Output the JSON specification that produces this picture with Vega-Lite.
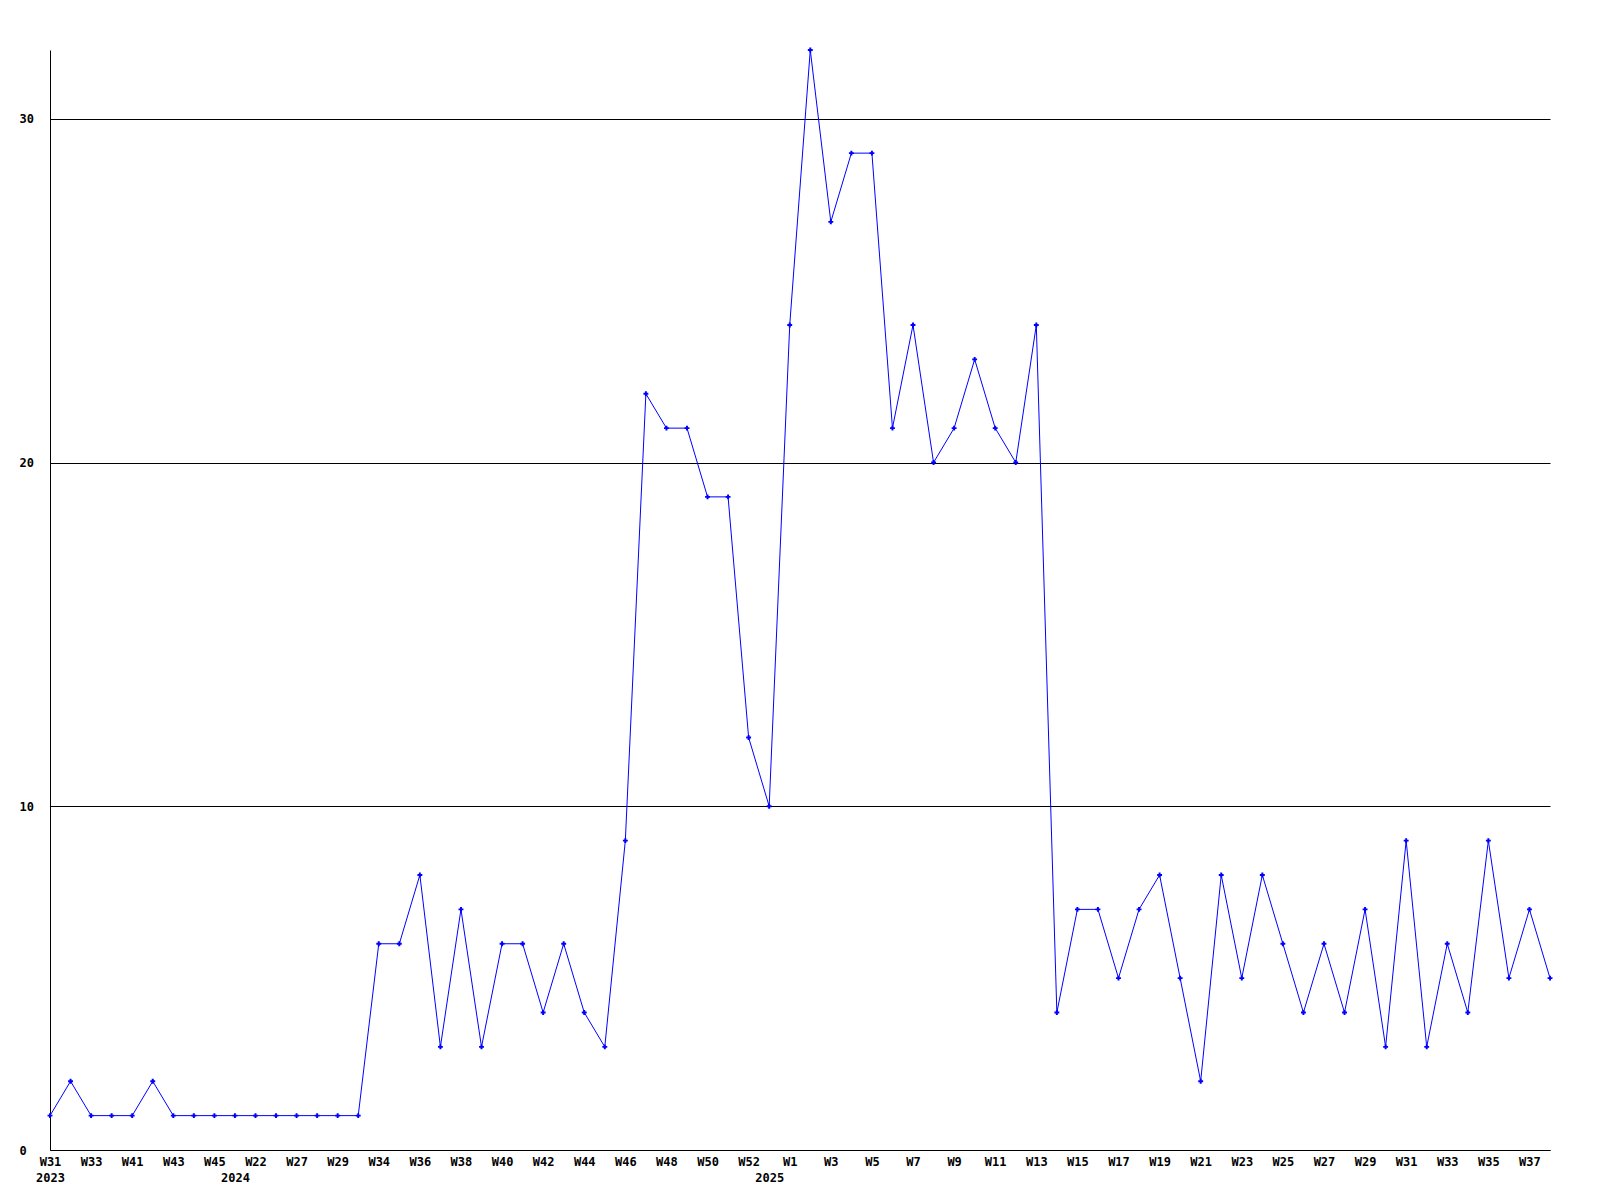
{
  "$schema": "https://vega.github.io/schema/vega-lite/v6.json",
  "width": 1500,
  "height": 1100,
  "autosize": {"type": "none"},
  "padding": {"left": 50, "top": 50, "right": 50, "bottom": 50},
  "background": "white",
  "config": {"view": {"stroke": null}},
  "data": {"values": [
    {"week": "2023-W31", "value": 1},
    {"week": "2023-W32", "value": 2},
    {"week": "2023-W33", "value": 1},
    {"week": "2023-W38", "value": 1},
    {"week": "2023-W41", "value": 1},
    {"week": "2023-W42", "value": 2},
    {"week": "2023-W43", "value": 1},
    {"week": "2023-W44", "value": 1},
    {"week": "2023-W45", "value": 1},
    {"week": "2024-W1", "value": 1},
    {"week": "2024-W22", "value": 1},
    {"week": "2024-W24", "value": 1},
    {"week": "2024-W27", "value": 1},
    {"week": "2024-W28", "value": 1},
    {"week": "2024-W29", "value": 1},
    {"week": "2024-W31", "value": 1},
    {"week": "2024-W34", "value": 6},
    {"week": "2024-W35", "value": 6},
    {"week": "2024-W36", "value": 8},
    {"week": "2024-W37", "value": 3},
    {"week": "2024-W38", "value": 7},
    {"week": "2024-W39", "value": 3},
    {"week": "2024-W40", "value": 6},
    {"week": "2024-W41", "value": 6},
    {"week": "2024-W42", "value": 4},
    {"week": "2024-W43", "value": 6},
    {"week": "2024-W44", "value": 4},
    {"week": "2024-W45", "value": 3},
    {"week": "2024-W46", "value": 9},
    {"week": "2024-W47", "value": 22},
    {"week": "2024-W48", "value": 21},
    {"week": "2024-W49", "value": 21},
    {"week": "2024-W50", "value": 19},
    {"week": "2024-W51", "value": 19},
    {"week": "2024-W52", "value": 12},
    {"week": "2025-W0", "value": 10},
    {"week": "2025-W1", "value": 24},
    {"week": "2025-W2", "value": 32},
    {"week": "2025-W3", "value": 27},
    {"week": "2025-W4", "value": 29},
    {"week": "2025-W5", "value": 29},
    {"week": "2025-W6", "value": 21},
    {"week": "2025-W7", "value": 24},
    {"week": "2025-W8", "value": 20},
    {"week": "2025-W9", "value": 21},
    {"week": "2025-W10", "value": 23},
    {"week": "2025-W11", "value": 21},
    {"week": "2025-W12", "value": 20},
    {"week": "2025-W13", "value": 24},
    {"week": "2025-W14", "value": 4},
    {"week": "2025-W15", "value": 7},
    {"week": "2025-W16", "value": 7},
    {"week": "2025-W17", "value": 5},
    {"week": "2025-W18", "value": 7},
    {"week": "2025-W19", "value": 8},
    {"week": "2025-W20", "value": 5},
    {"week": "2025-W21", "value": 2},
    {"week": "2025-W22", "value": 8},
    {"week": "2025-W23", "value": 5},
    {"week": "2025-W24", "value": 8},
    {"week": "2025-W25", "value": 6},
    {"week": "2025-W26", "value": 4},
    {"week": "2025-W27", "value": 6},
    {"week": "2025-W28", "value": 4},
    {"week": "2025-W29", "value": 7},
    {"week": "2025-W30", "value": 3},
    {"week": "2025-W31", "value": 9},
    {"week": "2025-W32", "value": 3},
    {"week": "2025-W33", "value": 6},
    {"week": "2025-W34", "value": 4},
    {"week": "2025-W35", "value": 9},
    {"week": "2025-W36", "value": 5},
    {"week": "2025-W37", "value": 7},
    {"week": "2025-W38", "value": 5}
  ]},
  "encoding": {
    "x": {
      "field": "week",
      "type": "ordinal",
      "sort": null,
      "scale": {"type": "point", "padding": 0},
      "axis": {
        "title": null,
        "domainColor": "black",
        "domainWidth": 1,
        "ticks": false,
        "grid": false,
        "labelAngle": 0,
        "labelAlign": "center",
        "labelBaseline": "top",
        "labelPadding": 6,
        "labelFlush": false,
        "labelOverlap": false,
        "labelBound": false,
        "labelFont": "DejaVu Sans Mono",
        "labelFontWeight": "bold",
        "labelFontSize": 12,
        "labelColor": "black",
        "labelLineHeight": 16,
        "values": ["2023-W31", "2023-W33", "2023-W41", "2023-W43", "2023-W45", "2024-W1", "2024-W22", "2024-W27", "2024-W29", "2024-W34", "2024-W36", "2024-W38", "2024-W40", "2024-W42", "2024-W44", "2024-W46", "2024-W48", "2024-W50", "2024-W52", "2025-W0", "2025-W1", "2025-W3", "2025-W5", "2025-W7", "2025-W9", "2025-W11", "2025-W13", "2025-W15", "2025-W17", "2025-W19", "2025-W21", "2025-W23", "2025-W25", "2025-W27", "2025-W29", "2025-W31", "2025-W33", "2025-W35", "2025-W37"],
        "labelExpr": "datum.value == '2023-W31' ? ['W31 ', '2023'] : datum.value == '2024-W1' ? ['', '2024'] : datum.value == '2025-W0' ? ['', '2025'] : split(datum.value, '-')[1]"
      }
    },
    "y": {
      "field": "value",
      "type": "quantitative",
      "scale": {"domain": [0, 32], "nice": false, "zero": true},
      "axis": {
        "title": null,
        "values": [0, 10, 20, 30],
        "domainColor": "black",
        "domainWidth": 1,
        "ticks": false,
        "grid": true,
        "gridColor": "black",
        "gridOpacity": 1,
        "gridWidth": 1,
        "labelAlign": "left",
        "labelBaseline": "middle",
        "labelPadding": 31,
        "labelFont": "DejaVu Sans Mono",
        "labelFontWeight": "bold",
        "labelFontSize": 12,
        "labelColor": "black"
      }
    }
  },
  "layer": [
    {"mark": {"type": "line", "color": "#0000ff", "strokeWidth": 1, "interpolate": "linear"}},
    {"mark": {"type": "point", "shape": "cross", "filled": true, "color": "#0000ff", "size": 24, "opacity": 1}}
  ]
}
